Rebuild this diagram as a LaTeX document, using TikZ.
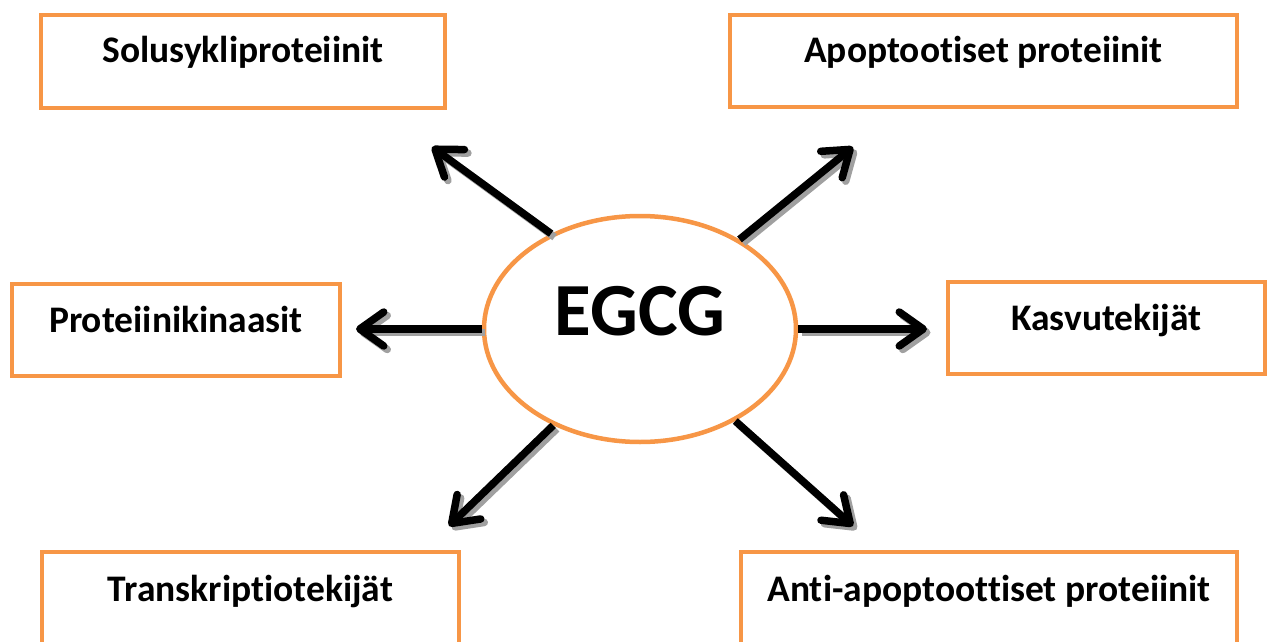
\documentclass[tikz,border=0pt]{standalone}
\usepackage{fontspec}
\setmainfont{Carlito}[Ligatures=NoCommon]
\usetikzlibrary{arrows.meta,shapes.geometric}
\definecolor{accorange}{HTML}{F79646}
\definecolor{shadowgray}{HTML}{A0A0A0}
\begin{document}
\begin{tikzpicture}[x=1pt,y=-1pt,
  box/.style={draw=accorange, line width=4.5pt, fill=white, inner sep=0pt,
    font=\fontsize{37.5}{45}\selectfont\bfseries, anchor=center},
  hub/.style={ellipse, draw=accorange, line width=4.5pt, fill=white, inner sep=0pt,
    minimum width=312pt, minimum height=226pt,
    font=\fontsize{75}{90}\selectfont\bfseries, text height=50pt, text depth=38pt},
  conn/.style={line width=7.5pt, -{Straight Barb[length=24pt,width=34pt,round]}},
  connshadow/.style={conn, draw=shadowgray, transform canvas={shift={(3.5pt,-3.5pt)}}}
]
\useasboundingbox (0,0) rectangle (1270,642);
\clip (0,0) rectangle (1270,642);

\node[box, minimum width=404pt, minimum height=93pt, text height=48pt, text depth=45pt]
  (b1) at (243,61.5) {Solusykliproteiinit};
\node[box, minimum width=507pt, minimum height=92pt, text height=48pt, text depth=44pt]
  (b2) at (983.5,61) {Apoptootiset proteiinit};
\node[box, minimum width=328pt, minimum height=92pt, text height=48pt, text depth=44pt]
  (b3) at (176,330) {Proteiinikinaasit};
\node[box, minimum width=317pt, minimum height=92pt, text height=48pt, text depth=44pt]
  (b4) at (1106.5,328) {Kasvutekijät};
\node[box, minimum width=417pt, minimum height=98pt, text height=49pt, text depth=49pt]
  (b5) at (250.5,601) {Transkriptiotekijät};
\node[box, minimum width=496pt, minimum height=98pt, text height=49pt, text depth=49pt]
  (b6) at (989,601) {Anti-apoptoottiset proteiinit};

\node[hub] (e) at (640,329) {EGCG};

\coordinate (t1) at (432,147);
\coordinate (t2) at (853,147);
\coordinate (t3) at (356,329);
\coordinate (t4) at (927,329);
\coordinate (t5) at (449,526);
\coordinate (t6) at (853,526);

\foreach \a/\t in {133/t1,42/t2,180/t3,0/t4,228/t5,316.5/t6}{
  \draw[connshadow] (e.\a) -- (\t);
}
\foreach \a/\t in {133/t1,42/t2,180/t3,0/t4,228/t5,316.5/t6}{
  \draw[conn] (e.\a) -- (\t);
}
\end{tikzpicture}
\end{document}
